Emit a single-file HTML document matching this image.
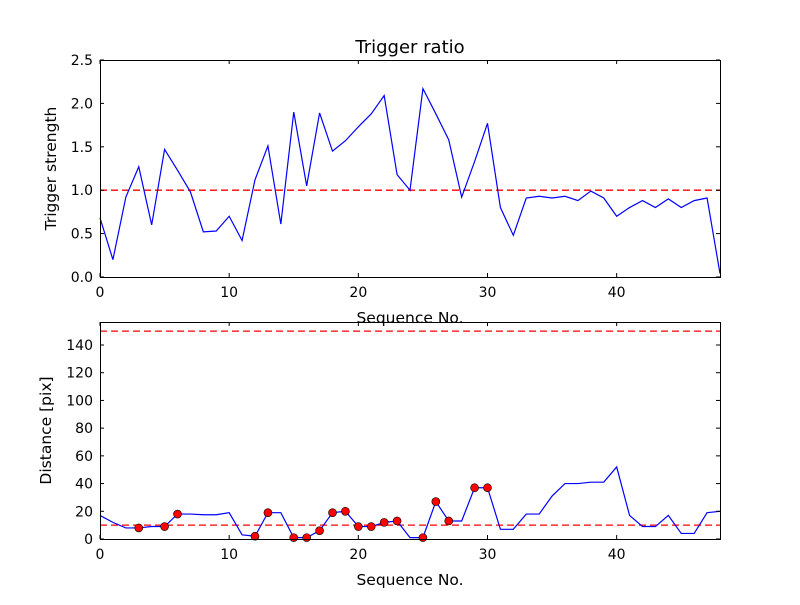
<!DOCTYPE html>
<html><head><meta charset="utf-8"><style>body{margin:0;background:#fff}svg{font-family:"DejaVu Sans","Liberation Sans",sans-serif}</style></head>
<body>
<svg id="c" width="800" height="600"></svg>
<script>
const seq=[];for(let i=0;i<=48;i++)seq.push(i);
const strength=[0.68,0.2,0.92,1.27,0.6,1.47,1.23,0.98,0.52,0.53,0.7,0.42,1.12,1.51,0.61,1.9,1.05,1.89,1.45,1.57,1.73,1.88,2.09,1.18,1.0,2.17,1.88,1.58,0.92,1.33,1.77,0.8,0.48,0.91,0.93,0.91,0.93,0.88,0.99,0.91,0.7,0.8,0.88,0.8,0.9,0.8,0.88,0.91,0.04];
const distance=[17,12,8,8,9,9,18,18,17.5,17.5,19,3,2,19,19,1,1,6,19,20,9,9,12,13,1,1,27,13,13,37,37,7,7,18,18,31,40,40,41,41,52,17,9,9,17,4,4,19,20];
const markerIdx=[3,5,6,12,13,15,16,17,18,19,20,21,22,23,25,26,27,29,30];
const topTicksY=[0,0.5,1,1.5,2,2.5];
const botTicksY=[0,20,40,60,80,100,120,140];
const ticksX=[0,10,20,30,40];
const svg=document.getElementById('c');const NS='http://www.w3.org/2000/svg';
function mk(t,a,p,name){const e=document.createElementNS(NS,t);for(const k in a)e.setAttribute(k,a[k]);


(p||svg).appendChild(e);return e;}
function panel(y0,y1,ymax,ticks,vals,ylabel,ref,pre){
 const X=v=>100+v/48*620, Y=v=>y1-v/ymax*(y1-y0);
 const g=mk('g',{},svg,pre+'-panel');
 ref.forEach(r=>mk('line',{x1:100,x2:720,y1:Y(r),y2:Y(r),stroke:'#f00','stroke-dasharray':'7,4','stroke-width':1.3},g,pre+'-threshold-line'));
 mk('polyline',{points:vals.map((v,i)=>X(seq[i])+','+Y(v)).join(' '),fill:'none',stroke:'#00f','stroke-width':1.2},g,pre+'-series-line');
 if(pre==='distance')markerIdx.forEach(i=>mk('circle',{cx:X(seq[i]),cy:Y(vals[i]),r:4,fill:'#f00',stroke:'#000','stroke-width':0.6},g,'distance-marker'));
 mk('rect',{x:100.5,y:y0+0.5,width:620,height:y1-y0,fill:'none',stroke:'#000','stroke-width':1},g,pre+'-axes-frame');
 ticks.forEach(t=>{const y=Y(t);mk('line',{x1:100,x2:104,y1:y,y2:y,stroke:'#000'},g,'y-tick');mk('line',{x1:716,x2:720,y1:y,y2:y,stroke:'#000'},g,'y-tick');
  const tx=mk('text',{x:93,y:y+5,'text-anchor':'end','font-size':14},g,'y-tick-label');tx.textContent=pre==='trigger'?t.toFixed(1):t;});
 ticksX.forEach(t=>{const x=X(t);mk('line',{x1:x,x2:x,y1:y1,y2:y1-4,stroke:'#000'},g,'x-tick');mk('line',{x1:x,x2:x,y1:y0,y2:y0+4,stroke:'#000'},g,'x-tick');
  const tx=mk('text',{x:x,y:y1+20,'text-anchor':'middle','font-size':14},g,'x-tick-label');tx.textContent=t;});
 const xl=mk('text',{x:410,y:y1+46,'text-anchor':'middle','font-size':15.5},g,'x-axis-title');xl.textContent='Sequence No.';
 const cy=(y0+y1)/2;const yl=mk('text',{x:0,y:0,'text-anchor':'middle','font-size':15.5,transform:`translate(${pre==='trigger'?56:51},${cy}) rotate(-90)`},g,'y-axis-title');yl.textContent=ylabel;
}
panel(60,277,2.5,topTicksY,strength,'Trigger strength',[1],'trigger');
panel(322,539,156.6,botTicksY,distance,'Distance [pix]',[10,150],'distance');
const t=mk('text',{x:410,y:53,'text-anchor':'middle','font-size':18},svg,'chart-title');t.textContent='Trigger ratio';
</script>
</body></html>
